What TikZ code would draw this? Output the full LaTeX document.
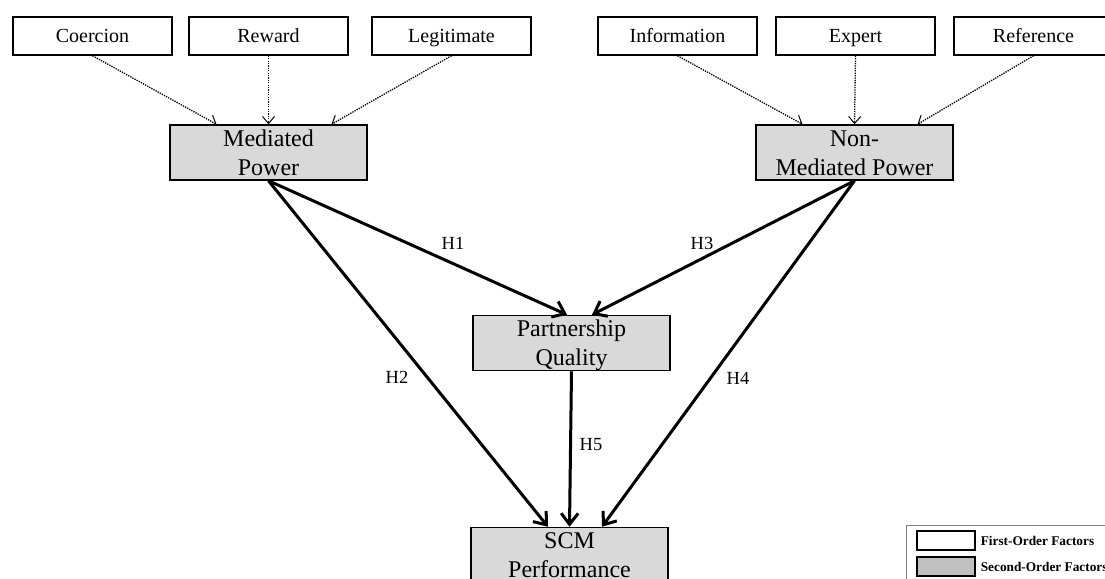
\documentclass[tikz,border=0pt]{standalone}
\usepackage{fontspec}
\setmainfont{Liberation Serif}
\usetikzlibrary{arrows.meta}
\definecolor{boxgray}{RGB}{217, 217, 217}
\definecolor{keygray}{RGB}{192, 192, 192}
\definecolor{framegray}{RGB}{128, 128, 128}

\begin{document}
\begin{tikzpicture}[x=1pt, y=-1pt,
    first/.style={draw=black, line width=1.5pt, rectangle, fill=white, inner sep=0pt, minimum width=159pt, minimum height=38pt, text height=18pt, text depth=4pt, font=\fontsize{20}{23}\selectfont},
    second/.style={draw=black, line width=1.5pt, rectangle, fill=boxgray, inner sep=0pt, minimum width=197pt, minimum height=55pt, text height=50pt, text depth=5pt, align=center, font=\fontsize{24}{29}\selectfont},
    indicator/.style={line width=1.3pt, dash pattern=on 1.3pt off 1.1pt, -{Straight Barb[length=7pt, width=12pt, line width=1pt]}},
    hyp/.style={line width=3pt, -{Straight Barb[length=11pt, width=17pt, line width=3pt]}},
    hlabel/.style={font=\fontsize{18.5}{21}\selectfont},
    keytext/.style={font=\fontsize{13.3}{15}\selectfont\bfseries, anchor=west, inner sep=0pt}]
            \useasboundingbox (0,0) rectangle (1105,578);
            % first-order factors
            \node[first] (coe) at (92.5,36) {Coercion};
            \node[first] (rew) at (268.5,36) {Reward};
            \node[first] (leg) at (451.5,36) {Legitimate};
            \node[first] (inf) at (677.5,36) {Information};
            \node[first] (exp) at (855.5,36) {Expert};
            \node[first] (ref) at (1033.5,36) {Reference};
            % second-order factors
            \node[second] (mp) at (268.5,152.5) {Mediated\\Power};
            \node[second] (nmp) at (854.5,152.5) {Non-\\Mediated Power};
            \node[second] (pq) at (571.5,343) {Partnership\\Quality};
            \node[second] (scm) at (569.5,555) {SCM\\Performance};
            \draw[indicator] (coe.south) -- ([xshift=-52pt]mp.north);
            \draw[indicator] (rew.south) -- (mp.north);
            \draw[indicator] (leg.south) -- ([xshift=63pt]mp.north);
            \draw[indicator] (inf.south) -- ([xshift=-52pt]nmp.north);
            \draw[indicator] (exp.south) -- (nmp.north);
            \draw[indicator] (ref.south) -- ([xshift=63pt]nmp.north);
            % hypotheses
            \draw[hyp] (mp.south) -- ([xshift=-4.5pt]pq.north);
            \draw[hyp] (nmp.south) -- ([xshift=20.5pt]pq.north);
            \draw[hyp] (mp.south) -- ([xshift=-21.5pt]scm.north);
            \draw[hyp] (nmp.south) -- ([xshift=32.5pt]scm.north);
            \draw[hyp] (pq.south) -- (scm.north);
            \node[hlabel] (h1) at (453,243) {H1};
            \node[hlabel] (h3) at (702,243) {H3};
            \node[hlabel] (h2) at (397,377) {H2};
            \node[hlabel] (h4) at (738,378) {H4};
            \node[hlabel] (h5) at (591,445) {H5};
            % legend
            \draw[framegray, line width=1pt] (906,525) rectangle (1115,590);
            \node[draw=black, line width=1.2pt, fill=white, minimum width=58pt, minimum height=19pt, inner sep=0pt] (kfirst) at (946,540.5) {};
            \node[draw=black, line width=1.2pt, fill=keygray, minimum width=58pt, minimum height=19pt, inner sep=0pt] (ksecond) at (946,566.5) {};
            \node[keytext] (tfirst) at ([xshift=5pt]kfirst.east) {First-Order Factors};
            \node[keytext] (tsecond) at ([xshift=5pt]ksecond.east) {Second-Order Factors};
        \end{tikzpicture}
\end{document}
